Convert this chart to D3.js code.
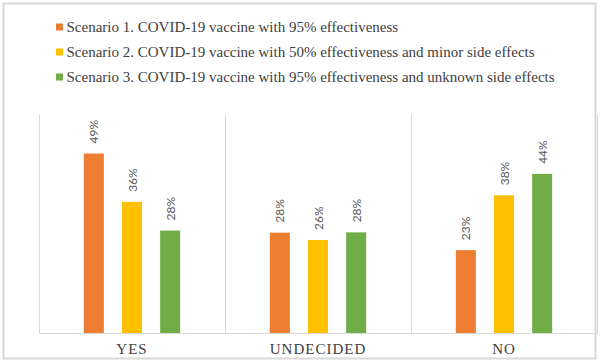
<!DOCTYPE html>
<html>
<head>
<meta charset="utf-8">
<script src="https://cdn.jsdelivr.net/npm/d3@7/dist/d3.min.js"></script>
<style>
  html, body { margin: 0; padding: 0; background: #ffffff; }
  svg { display: block; }
</style>
</head>
<body>
<svg id="chart" width="600" height="362"></svg>
<script>
const categories = ["YES", "UNDECIDED", "NO"];
const seriesNames = [
  "Scenario 1. COVID-19 vaccine with 95% effectiveness",
  "Scenario 2. COVID-19 vaccine with 50% effectiveness and minor side effects",
  "Scenario 3. COVID-19 vaccine with 95% effectiveness and unknown side effects"
];
const scenario1 = [49.4, 27.6, 22.8];
const scenario2 = [36.1, 25.6, 37.9];
const scenario3 = [28.2, 27.7, 43.8];
const seriesColors = ["#ED7D31", "#FFC000", "#70AD47"];
const yDomain = [0, 60];

const seriesValues = [scenario1, scenario2, scenario3];
const svg = d3.select("#chart");

// outer border
svg.append("rect")
  .attr("x", 3.5).attr("y", 3.5)
  .attr("width", 592).attr("height", 355)
  .attr("fill", "#ffffff")
  .attr("stroke", "#d9d9d9")
  .attr("stroke-width", 2);

const plot = { left: 39, right: 597, top: 115, bottom: 333 };

const x0 = d3.scaleBand().domain(categories).range([plot.left, plot.right]).padding(0);
const x1 = d3.scaleBand().domain(d3.range(seriesNames.length))
  .range([0, x0.bandwidth()])
  .paddingInner(0.4757).paddingOuter(1.175);
const y = d3.scaleLinear().domain(yDomain).range([plot.bottom, plot.top]);

// vertical separators between categories
const sepX = categories.map(c => x0(c)).concat([x0(categories[categories.length - 1]) + x0.bandwidth()]);
svg.append("g").selectAll("line").data(sepX).join("line")
  .attr("x1", d => d + 0.5).attr("x2", d => d + 0.5)
  .attr("y1", y(yDomain[1])).attr("y2", y(0))
  .attr("stroke", "#d9d9d9").attr("stroke-width", 1);

// baseline
svg.append("line")
  .attr("x1", plot.left).attr("x2", plot.right)
  .attr("y1", y(0) + 0.5).attr("y2", y(0) + 0.5)
  .attr("stroke", "#d9d9d9").attr("stroke-width", 1);

// bars
const rows = [];
categories.forEach((c, ci) => {
  seriesValues.forEach((vals, si) => rows.push({ c, si, v: vals[ci] }));
});

const fmt = d3.format(".0f");
const g = svg.append("g");
g.selectAll("rect").data(rows).join("rect")
  .attr("x", d => x0(d.c) + x1(d.si))
  .attr("y", d => y(d.v))
  .attr("width", x1.bandwidth())
  .attr("height", d => y(0) - y(d.v))
  .attr("fill", d => seriesColors[d.si]);

// rotated data labels
g.selectAll("text").data(rows).join("text")
  .attr("transform", d => `translate(${x0(d.c) + x1(d.si) + x1.bandwidth() / 2},${y(d.v) - 10}) rotate(-90)`)
  .attr("text-anchor", "start")
  .attr("dominant-baseline", "central")
  .attr("font-family", "Lato, 'Open Sans', sans-serif")
  .attr("font-size", 12)
  .attr("fill", "#595959")
  .text(d => fmt(d.v) + "%");

// category labels
svg.append("g").selectAll("text").data(categories).join("text")
  .attr("x", d => x0(d) + x0.bandwidth() / 2)
  .attr("y", 354)
  .attr("text-anchor", "middle")
  .attr("font-family", "'Liberation Serif', 'Times New Roman', serif")
  .attr("font-size", 15)
  .attr("letter-spacing", 1)
  .attr("fill", "#404040")
  .text(d => d);

// legend
const legend = svg.append("g");
const lg = legend.selectAll("g").data(seriesNames).join("g")
  .attr("transform", (d, i) => `translate(56,${27 + i * 25})`);
lg.append("rect")
  .attr("x", 0).attr("y", -3.5)
  .attr("width", 7).attr("height", 7)
  .attr("fill", (d, i) => seriesColors[i]);
lg.append("text")
  .attr("x", 10.5).attr("y", 5)
  .attr("font-family", "'Liberation Serif', 'Times New Roman', serif")
  .attr("font-size", 15)
  .attr("fill", "#404040")
  .text(d => d);
</script>
</body>
</html>
